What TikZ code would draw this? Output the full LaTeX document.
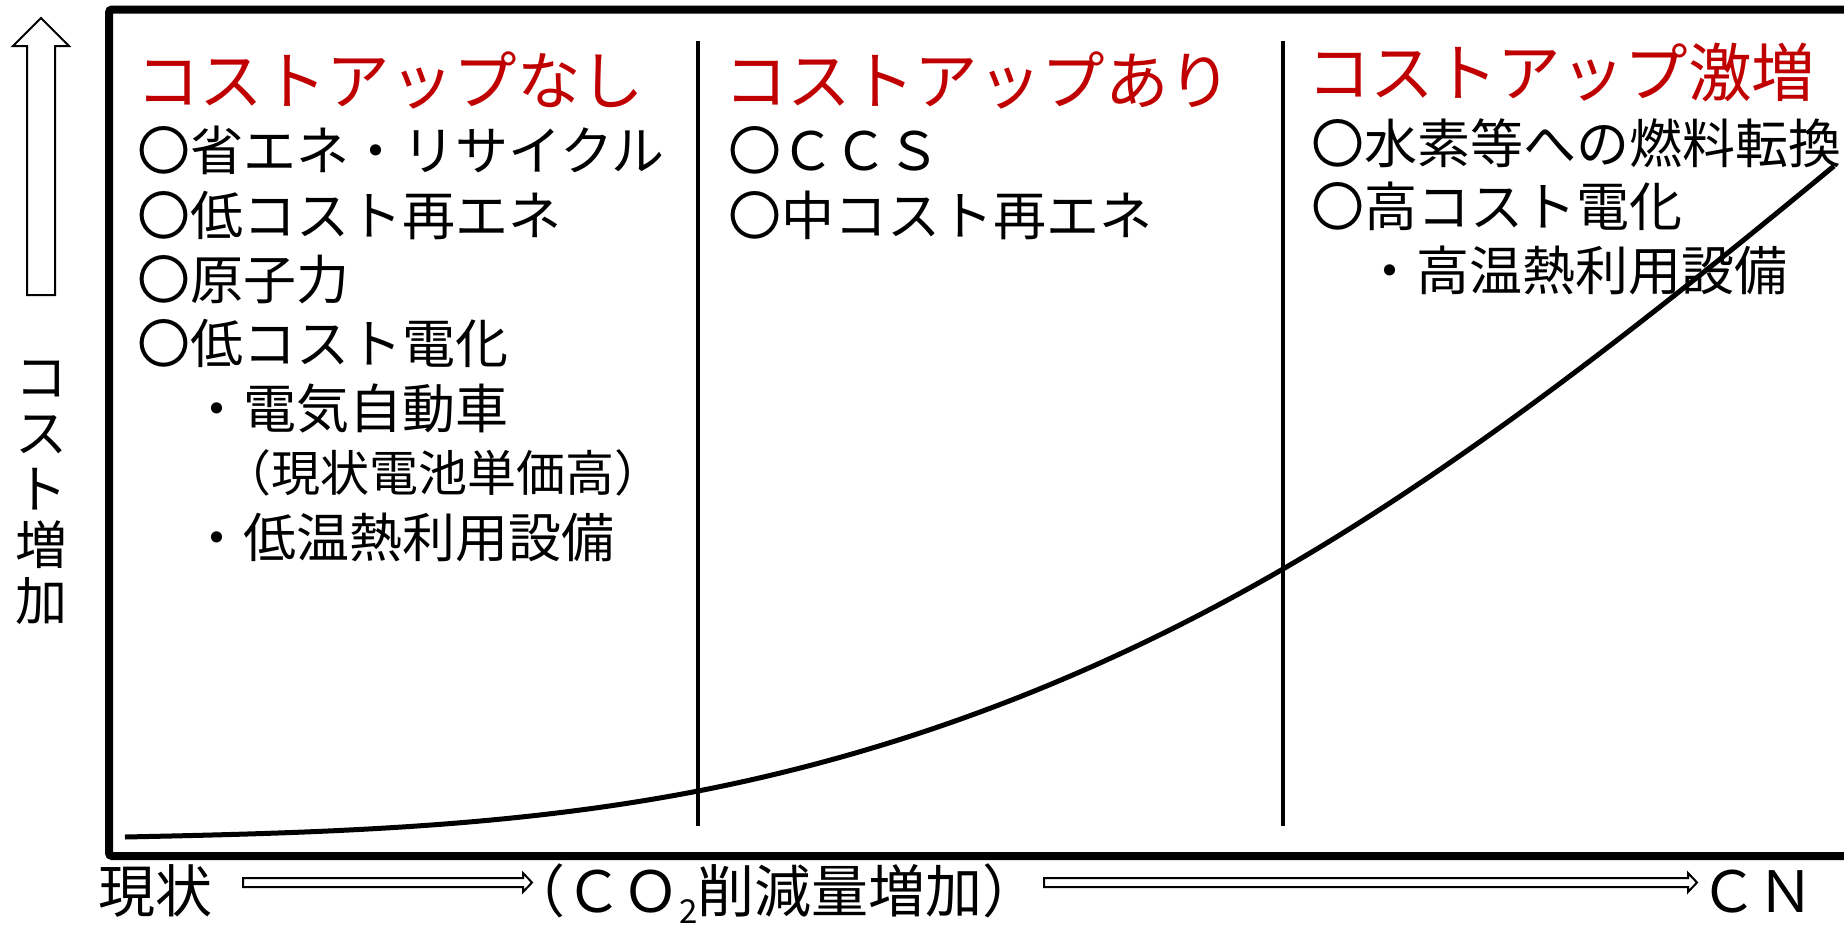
\documentclass[tikz,border=0pt]{standalone}
\usepackage{fontspec}
\setmainfont{Noto Sans CJK JP}
\usetikzlibrary{calc}
\definecolor{jred}{RGB}{192,0,0}
\tikzset{
  lbl/.style={anchor=west, inner sep=0pt},
  ttl/.style={lbl, font=\fontsize{63.5}{63.5}\selectfont, text=jred, text height=56pt, text depth=7.6pt},
  bodytxt/.style={lbl, font=\fontsize{53}{53}\selectfont, text height=46.6pt, text depth=6.4pt},
  smalltxt/.style={lbl, font=\fontsize{49}{49}\selectfont, text height=43pt, text depth=6pt},
  axtxt/.style={lbl, font=\fontsize{57}{57}\selectfont, text height=50pt, text depth=7pt},
  hollow/.style={draw=black, fill=white, line width=2pt, line join=miter},
  frameline/.style={line width=8pt, rounded corners=3pt},
  divider/.style={line width=3.5pt},
  curveline/.style={line width=5pt}
}
\begin{document}
\begin{tikzpicture}[x=1pt,y=-1pt]
\useasboundingbox (0,0) rectangle (1844,926);
\fill[white] (0,0) rectangle (1844,926);
% frame (open on the right)
\draw[frameline] (1850,9.5) -- (109,9.5) -- (109,856) -- (1850,856);
% dividers
\draw[divider] (698,41) -- (698,826);
\draw[divider] (1283,41) -- (1283,826);
% curve
\draw[curveline] (125,837) .. controls (316,833) and (507,828) .. (698,791)
  .. controls (893,753) and (1088,682) .. (1283,569)
  .. controls (1466,463) and (1649,319) .. (1834,166);
% up arrow
\draw[hollow] (27,295) -- (27,46) -- (13,46) -- (41,18) -- (69,46) -- (55,46) -- (55,295) -- cycle;
% vertical axis label
\node[inner sep=0pt, align=center, font=\fontsize{52}{56}\selectfont] (ylab) at (41,493) {コ\\ス\\ト\\増\\加};
% column 1
\node[ttl] (t1) at (136,80) {コストアップなし};
\node[bodytxt] (c1a) at (137,150) {〇省エネ・リサイクル};
\node[bodytxt] (c1b) at (137,215) {〇低コスト再エネ};
\node[bodytxt] (c1c) at (137,279) {〇原子力};
\node[bodytxt] (c1d) at (137,343) {〇低コスト電化};
\node[bodytxt] (c1e) at (190,408) {・電気自動車};
\node[smalltxt] (c1f) at (222,473) {（現状電池単価高）};
\node[bodytxt] (c1g) at (190,537) {・低温熱利用設備};
% column 2
\node[ttl] (t2) at (724,80) {コストアップあり};
\node[bodytxt] (c2a) at (728,150) {〇ＣＣＳ};
\node[bodytxt] (c2b) at (728,215) {〇中コスト再エネ};
% column 3
\node[ttl] (t3) at (1307,72) {コストアップ激増};
\node[bodytxt] (c3a) at (1311,143) {〇水素等への燃料転換};
\node[bodytxt] (c3b) at (1311,206) {〇高コスト電化};
\node[bodytxt] (c3c) at (1363,270) {・高温熱利用設備};
% x axis labels
\node[axtxt] (x1) at (98,891) {現状};
\node[axtxt] (x2) at (508,891) {（ＣＯ\raisebox{-11pt}{\fontsize{33}{33}\selectfont 2}削減量増加）};
\node[axtxt] (x3) at (1700,891) {ＣＮ};
\coordinate (a1s) at (243,882.5);
\coordinate (a1e) at (532,882.5);
\coordinate (a2s) at (1044,882.5);
\coordinate (a2e) at (1697,882.5);
\foreach \s/\e in {a1s/a1e, a2s/a2e}{
  \draw[hollow] let \p1=(\s), \p2=(\e) in
    ({\x1},{\y1+4.5pt}) -- ({\x2-9pt},{\y1+4.5pt}) -- ({\x2-9pt},{\y1+9.5pt}) -- ({\x2},{\y1})
    -- ({\x2-9pt},{\y1-9.5pt}) -- ({\x2-9pt},{\y1-4.5pt}) -- ({\x1},{\y1-4.5pt}) -- cycle;
}
\end{tikzpicture}
\end{document}
